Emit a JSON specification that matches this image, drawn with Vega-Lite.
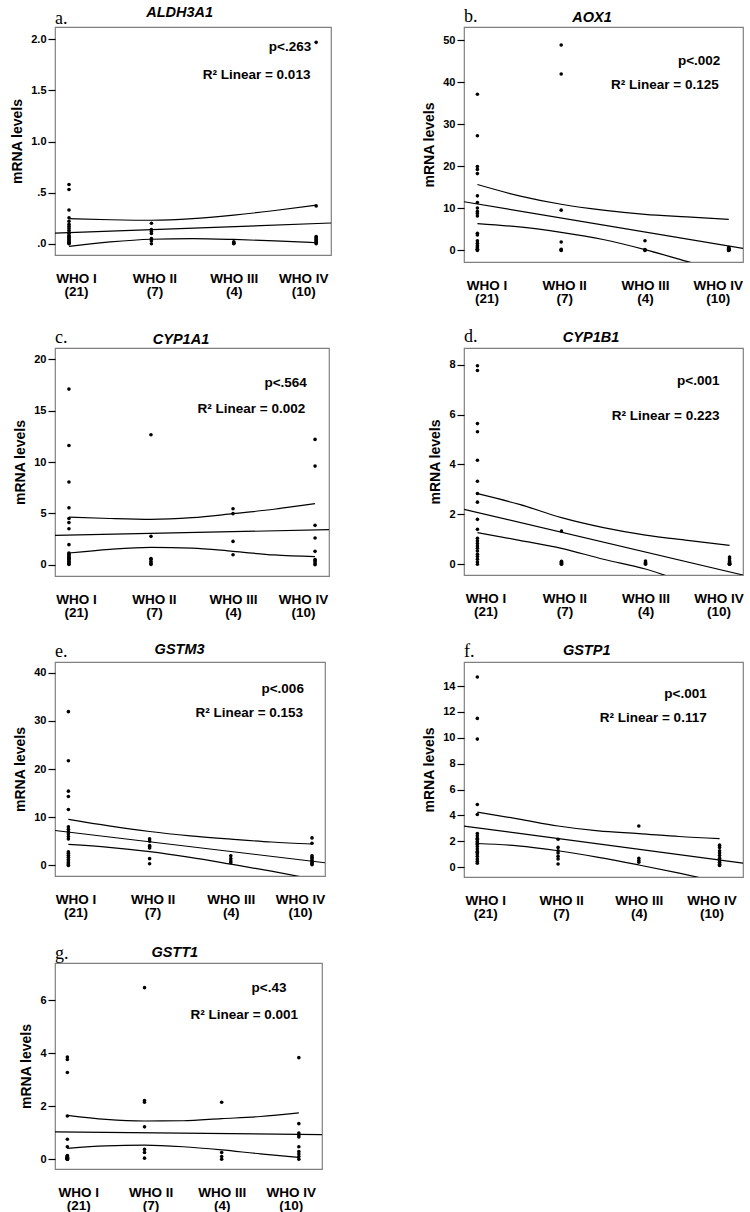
{
"$schema":"https://vega.github.io/schema/vega-lite/v6.json",
"padding":{"left":10,"top":4,"right":2,"bottom":1},
"background":"white",
"bounds":"flush",
"align":"each",
"columns":2,
"spacing":{"row":86,"column":133},
"datasets":{
"notes":[
{"panel":"a","letter":"a.","gene":"ALDH3A1","pval":"p<.263","r2":"R² Linear = 0.013"},
{"panel":"b","letter":"b.","gene":"AOX1","pval":"p<.002","r2":"R² Linear = 0.125"},
{"panel":"c","letter":"c.","gene":"CYP1A1","pval":"p<.564","r2":"R² Linear = 0.002"},
{"panel":"d","letter":"d.","gene":"CYP1B1","pval":"p<.001","r2":"R² Linear = 0.223"},
{"panel":"e","letter":"e.","gene":"GSTM3","pval":"p<.006","r2":"R² Linear = 0.153"},
{"panel":"f","letter":"f.","gene":"GSTP1","pval":"p<.001","r2":"R² Linear = 0.117"},
{"panel":"g","letter":"g.","gene":"GSTT1","pval":"p<.43","r2":"R² Linear = 0.001"}
],
"curves":[
{"panel":"a","band":"fit","grade":0.83,"value":0.103},{"panel":"a","band":"fit","grade":4.18,"value":0.203},
{"panel":"a","band":"upper","grade":1,"value":0.245},{"panel":"a","band":"upper","grade":1.5,"value":0.235},{"panel":"a","band":"upper","grade":2,"value":0.23},{"panel":"a","band":"upper","grade":2.5,"value":0.245},{"panel":"a","band":"upper","grade":3,"value":0.28},{"panel":"a","band":"upper","grade":3.5,"value":0.325},{"panel":"a","band":"upper","grade":4,"value":0.377},
{"panel":"a","band":"lower","grade":1,"value":-0.025},{"panel":"a","band":"lower","grade":1.5,"value":0.018},{"panel":"a","band":"lower","grade":2,"value":0.044},{"panel":"a","band":"lower","grade":2.5,"value":0.05},{"panel":"a","band":"lower","grade":3,"value":0.042},{"panel":"a","band":"lower","grade":3.5,"value":0.028},{"panel":"a","band":"lower","grade":4,"value":0.01},
{"panel":"b","band":"fit","grade":0.84,"value":11.6},{"panel":"b","band":"fit","grade":4.17,"value":0.5},
{"panel":"b","band":"upper","grade":1,"value":15.7},{"panel":"b","band":"upper","grade":1.5,"value":13.0},{"panel":"b","band":"upper","grade":2,"value":11.0},{"panel":"b","band":"upper","grade":2.5,"value":9.6},{"panel":"b","band":"upper","grade":3,"value":8.6},{"panel":"b","band":"upper","grade":3.5,"value":8.0},{"panel":"b","band":"upper","grade":4,"value":7.4},
{"panel":"b","band":"lower","grade":1,"value":6.4},{"panel":"b","band":"lower","grade":1.5,"value":5.6},{"panel":"b","band":"lower","grade":2,"value":4.3},{"panel":"b","band":"lower","grade":2.5,"value":2.6},{"panel":"b","band":"lower","grade":3,"value":0.2},{"panel":"b","band":"lower","grade":3.5,"value":-2.6},{"panel":"b","band":"lower","grade":4,"value":-5.3},
{"panel":"c","band":"fit","grade":0.83,"value":2.86},{"panel":"c","band":"fit","grade":4.17,"value":3.41},
{"panel":"c","band":"upper","grade":1,"value":4.64},{"panel":"c","band":"upper","grade":1.5,"value":4.5},{"panel":"c","band":"upper","grade":2,"value":4.42},{"panel":"c","band":"upper","grade":2.5,"value":4.58},{"panel":"c","band":"upper","grade":3,"value":4.97},{"panel":"c","band":"upper","grade":3.5,"value":5.4},{"panel":"c","band":"upper","grade":4,"value":5.94},
{"panel":"c","band":"lower","grade":1,"value":1.14},{"panel":"c","band":"lower","grade":1.5,"value":1.5},{"panel":"c","band":"lower","grade":2,"value":1.69},{"panel":"c","band":"lower","grade":2.5,"value":1.62},{"panel":"c","band":"lower","grade":3,"value":1.3},{"panel":"c","band":"lower","grade":3.5,"value":0.95},{"panel":"c","band":"lower","grade":4,"value":0.78},
{"panel":"d","band":"fit","grade":0.84,"value":2.2},{"panel":"d","band":"fit","grade":4.16,"value":-0.43},
{"panel":"d","band":"upper","grade":1,"value":2.83},{"panel":"d","band":"upper","grade":1.5,"value":2.4},{"panel":"d","band":"upper","grade":2,"value":1.87},{"panel":"d","band":"upper","grade":2.5,"value":1.47},{"panel":"d","band":"upper","grade":3,"value":1.17},{"panel":"d","band":"upper","grade":3.5,"value":0.96},{"panel":"d","band":"upper","grade":4,"value":0.76},
{"panel":"d","band":"lower","grade":1,"value":1.27},{"panel":"d","band":"lower","grade":1.5,"value":0.96},{"panel":"d","band":"lower","grade":2,"value":0.64},{"panel":"d","band":"lower","grade":2.5,"value":0.2},{"panel":"d","band":"lower","grade":3,"value":-0.19},{"panel":"d","band":"lower","grade":3.5,"value":-0.76},{"panel":"d","band":"lower","grade":4,"value":-1.36},
{"panel":"e","band":"fit","grade":0.835,"value":7.24},{"panel":"e","band":"fit","grade":4.16,"value":0.55},
{"panel":"e","band":"upper","grade":1,"value":9.56},{"panel":"e","band":"upper","grade":1.5,"value":8.2},{"panel":"e","band":"upper","grade":2,"value":7.03},{"panel":"e","band":"upper","grade":2.5,"value":6.14},{"panel":"e","band":"upper","grade":3,"value":5.46},{"panel":"e","band":"upper","grade":3.5,"value":4.85},{"panel":"e","band":"upper","grade":4,"value":4.44},
{"panel":"e","band":"lower","grade":1,"value":4.35},{"panel":"e","band":"lower","grade":1.5,"value":3.75},{"panel":"e","band":"lower","grade":2,"value":2.85},{"panel":"e","band":"lower","grade":2.5,"value":1.65},{"panel":"e","band":"lower","grade":3,"value":0.25},{"panel":"e","band":"lower","grade":3.5,"value":-1.2},{"panel":"e","band":"lower","grade":4,"value":-2.8},
{"panel":"f","band":"fit","grade":0.835,"value":3.18},{"panel":"f","band":"fit","grade":4.29,"value":0.31},
{"panel":"f","band":"upper","grade":1,"value":4.25},{"panel":"f","band":"upper","grade":1.5,"value":3.74},{"panel":"f","band":"upper","grade":2,"value":3.18},{"panel":"f","band":"upper","grade":2.5,"value":2.8},{"panel":"f","band":"upper","grade":3,"value":2.6},{"panel":"f","band":"upper","grade":3.5,"value":2.37},{"panel":"f","band":"upper","grade":4,"value":2.2},
{"panel":"f","band":"lower","grade":1,"value":1.83},{"panel":"f","band":"lower","grade":1.5,"value":1.65},{"panel":"f","band":"lower","grade":2,"value":1.27},{"panel":"f","band":"lower","grade":2.5,"value":0.76},{"panel":"f","band":"lower","grade":3,"value":0.17},{"panel":"f","band":"lower","grade":3.5,"value":-0.46},{"panel":"f","band":"lower","grade":4,"value":-1.15},
{"panel":"g","band":"fit","grade":0.84,"value":1.03},{"panel":"g","band":"fit","grade":4.3,"value":0.93},
{"panel":"g","band":"upper","grade":1,"value":1.65},{"panel":"g","band":"upper","grade":1.5,"value":1.5},{"panel":"g","band":"upper","grade":2,"value":1.44},{"panel":"g","band":"upper","grade":2.5,"value":1.45},{"panel":"g","band":"upper","grade":3,"value":1.53},{"panel":"g","band":"upper","grade":3.5,"value":1.61},{"panel":"g","band":"upper","grade":4,"value":1.75},
{"panel":"g","band":"lower","grade":1,"value":0.41},{"panel":"g","band":"lower","grade":1.5,"value":0.5},{"panel":"g","band":"lower","grade":2,"value":0.53},{"panel":"g","band":"lower","grade":2.5,"value":0.47},{"panel":"g","band":"lower","grade":3,"value":0.35},{"panel":"g","band":"lower","grade":3.5,"value":0.2},{"panel":"g","band":"lower","grade":4,"value":0.07}
],
"points":[
{"panel":"a","grade":1,"value":0.58},{"panel":"a","grade":1,"value":0.53},{"panel":"a","grade":1,"value":0.33},{"panel":"a","grade":1,"value":0.255},{"panel":"a","grade":1,"value":0.22},{"panel":"a","grade":1,"value":0.19},{"panel":"a","grade":1,"value":0.17},{"panel":"a","grade":1,"value":0.15},{"panel":"a","grade":1,"value":0.13},{"panel":"a","grade":1,"value":0.11},{"panel":"a","grade":1,"value":0.1},{"panel":"a","grade":1,"value":0.08},{"panel":"a","grade":1,"value":0.07},{"panel":"a","grade":1,"value":0.06},{"panel":"a","grade":1,"value":0.05},{"panel":"a","grade":1,"value":0.04},{"panel":"a","grade":1,"value":0.03},{"panel":"a","grade":1,"value":0.02},{"panel":"a","grade":1,"value":0.01},{"panel":"a","grade":1,"value":0.005},{"panel":"a","grade":1,"value":0.0},
{"panel":"a","grade":2,"value":0.2},{"panel":"a","grade":2,"value":0.14},{"panel":"a","grade":2,"value":0.12},{"panel":"a","grade":2,"value":0.1},{"panel":"a","grade":2,"value":0.05},{"panel":"a","grade":2,"value":0.03},{"panel":"a","grade":2,"value":0.0},
{"panel":"a","grade":3,"value":0.02},{"panel":"a","grade":3,"value":0.01},{"panel":"a","grade":3,"value":0.005},{"panel":"a","grade":3,"value":0.0},
{"panel":"a","grade":4,"value":1.97},{"panel":"a","grade":4,"value":0.37},{"panel":"a","grade":4,"value":0.07},{"panel":"a","grade":4,"value":0.06},{"panel":"a","grade":4,"value":0.05},{"panel":"a","grade":4,"value":0.04},{"panel":"a","grade":4,"value":0.03},{"panel":"a","grade":4,"value":0.02},{"panel":"a","grade":4,"value":0.01},{"panel":"a","grade":4,"value":0.0},
{"panel":"b","grade":1,"value":37.2},{"panel":"b","grade":1,"value":27.3},{"panel":"b","grade":1,"value":20.0},{"panel":"b","grade":1,"value":19.3},{"panel":"b","grade":1,"value":18.3},{"panel":"b","grade":1,"value":13.0},{"panel":"b","grade":1,"value":11.4},{"panel":"b","grade":1,"value":10.1},{"panel":"b","grade":1,"value":9.3},{"panel":"b","grade":1,"value":8.8},{"panel":"b","grade":1,"value":8.2},{"panel":"b","grade":1,"value":4.1},{"panel":"b","grade":1,"value":3.7},{"panel":"b","grade":1,"value":2.3},{"panel":"b","grade":1,"value":1.7},{"panel":"b","grade":1,"value":1.2},{"panel":"b","grade":1,"value":0.8},{"panel":"b","grade":1,"value":0.6},{"panel":"b","grade":1,"value":0.3},{"panel":"b","grade":1,"value":0.2},{"panel":"b","grade":1,"value":0.0},
{"panel":"b","grade":2,"value":48.9},{"panel":"b","grade":2,"value":42.0},{"panel":"b","grade":2,"value":9.6},{"panel":"b","grade":2,"value":2.0},{"panel":"b","grade":2,"value":0.3},{"panel":"b","grade":2,"value":0.1},{"panel":"b","grade":2,"value":0.0},
{"panel":"b","grade":3,"value":2.3},{"panel":"b","grade":3,"value":0.2},{"panel":"b","grade":3,"value":0.1},{"panel":"b","grade":3,"value":0.0},
{"panel":"b","grade":4,"value":0.7},{"panel":"b","grade":4,"value":0.5},{"panel":"b","grade":4,"value":0.4},{"panel":"b","grade":4,"value":0.3},{"panel":"b","grade":4,"value":0.25},{"panel":"b","grade":4,"value":0.2},{"panel":"b","grade":4,"value":0.15},{"panel":"b","grade":4,"value":0.1},{"panel":"b","grade":4,"value":0.05},{"panel":"b","grade":4,"value":0.0},
{"panel":"c","grade":1,"value":17.1},{"panel":"c","grade":1,"value":11.6},{"panel":"c","grade":1,"value":8.05},{"panel":"c","grade":1,"value":5.55},{"panel":"c","grade":1,"value":4.5},{"panel":"c","grade":1,"value":4.1},{"panel":"c","grade":1,"value":3.5},{"panel":"c","grade":1,"value":1.95},{"panel":"c","grade":1,"value":1.14},{"panel":"c","grade":1,"value":1.05},{"panel":"c","grade":1,"value":0.97},{"panel":"c","grade":1,"value":0.84},{"panel":"c","grade":1,"value":0.75},{"panel":"c","grade":1,"value":0.68},{"panel":"c","grade":1,"value":0.6},{"panel":"c","grade":1,"value":0.52},{"panel":"c","grade":1,"value":0.36},{"panel":"c","grade":1,"value":0.3},{"panel":"c","grade":1,"value":0.2},{"panel":"c","grade":1,"value":0.1},{"panel":"c","grade":1,"value":0.03},
{"panel":"c","grade":2,"value":12.66},{"panel":"c","grade":2,"value":2.76},{"panel":"c","grade":2,"value":0.6},{"panel":"c","grade":2,"value":0.52},{"panel":"c","grade":2,"value":0.32},{"panel":"c","grade":2,"value":0.15},{"panel":"c","grade":2,"value":0.03},
{"panel":"c","grade":3,"value":5.45},{"panel":"c","grade":3,"value":4.97},{"panel":"c","grade":3,"value":2.27},{"panel":"c","grade":3,"value":0.97},
{"panel":"c","grade":4,"value":12.2},{"panel":"c","grade":4,"value":9.6},{"panel":"c","grade":4,"value":3.83},{"panel":"c","grade":4,"value":2.6},{"panel":"c","grade":4,"value":1.3},{"panel":"c","grade":4,"value":0.5},{"panel":"c","grade":4,"value":0.4},{"panel":"c","grade":4,"value":0.26},{"panel":"c","grade":4,"value":0.1},{"panel":"c","grade":4,"value":0.0},
{"panel":"d","grade":1,"value":7.96},{"panel":"d","grade":1,"value":7.77},{"panel":"d","grade":1,"value":5.64},{"panel":"d","grade":1,"value":5.31},{"panel":"d","grade":1,"value":4.17},{"panel":"d","grade":1,"value":3.33},{"panel":"d","grade":1,"value":2.84},{"panel":"d","grade":1,"value":2.49},{"panel":"d","grade":1,"value":1.8},{"panel":"d","grade":1,"value":1.4},{"panel":"d","grade":1,"value":1.04},{"panel":"d","grade":1,"value":0.93},{"panel":"d","grade":1,"value":0.83},{"panel":"d","grade":1,"value":0.73},{"panel":"d","grade":1,"value":0.64},{"panel":"d","grade":1,"value":0.53},{"panel":"d","grade":1,"value":0.4},{"panel":"d","grade":1,"value":0.31},{"panel":"d","grade":1,"value":0.2},{"panel":"d","grade":1,"value":0.09},{"panel":"d","grade":1,"value":0.0},
{"panel":"d","grade":2,"value":1.33},{"panel":"d","grade":2,"value":0.12},{"panel":"d","grade":2,"value":0.08},{"panel":"d","grade":2,"value":0.05},{"panel":"d","grade":2,"value":0.03},{"panel":"d","grade":2,"value":0.01},{"panel":"d","grade":2,"value":0.0},
{"panel":"d","grade":3,"value":0.13},{"panel":"d","grade":3,"value":0.07},{"panel":"d","grade":3,"value":0.03},{"panel":"d","grade":3,"value":0.0},
{"panel":"d","grade":4,"value":0.29},{"panel":"d","grade":4,"value":0.22},{"panel":"d","grade":4,"value":0.13},{"panel":"d","grade":4,"value":0.1},{"panel":"d","grade":4,"value":0.06},{"panel":"d","grade":4,"value":0.04},{"panel":"d","grade":4,"value":0.02},{"panel":"d","grade":4,"value":0.01},{"panel":"d","grade":4,"value":0.005},{"panel":"d","grade":4,"value":0.0},
{"panel":"e","grade":1,"value":31.9},{"panel":"e","grade":1,"value":21.7},{"panel":"e","grade":1,"value":15.4},{"panel":"e","grade":1,"value":14.3},{"panel":"e","grade":1,"value":11.6},{"panel":"e","grade":1,"value":8.0},{"panel":"e","grade":1,"value":7.5},{"panel":"e","grade":1,"value":7.0},{"panel":"e","grade":1,"value":6.5},{"panel":"e","grade":1,"value":6.0},{"panel":"e","grade":1,"value":5.5},{"panel":"e","grade":1,"value":2.8},{"panel":"e","grade":1,"value":2.5},{"panel":"e","grade":1,"value":2.1},{"panel":"e","grade":1,"value":1.7},{"panel":"e","grade":1,"value":1.2},{"panel":"e","grade":1,"value":0.9},{"panel":"e","grade":1,"value":0.6},{"panel":"e","grade":1,"value":0.35},{"panel":"e","grade":1,"value":0.1},{"panel":"e","grade":1,"value":0.0},
{"panel":"e","grade":2,"value":5.5},{"panel":"e","grade":2,"value":5.0},{"panel":"e","grade":2,"value":4.1},{"panel":"e","grade":2,"value":3.9},{"panel":"e","grade":2,"value":3.6},{"panel":"e","grade":2,"value":1.4},{"panel":"e","grade":2,"value":0.34},
{"panel":"e","grade":3,"value":2.0},{"panel":"e","grade":3,"value":1.4},{"panel":"e","grade":3,"value":0.9},{"panel":"e","grade":3,"value":0.55},
{"panel":"e","grade":4,"value":5.7},{"panel":"e","grade":4,"value":4.6},{"panel":"e","grade":4,"value":2.0},{"panel":"e","grade":4,"value":1.7},{"panel":"e","grade":4,"value":1.4},{"panel":"e","grade":4,"value":1.0},{"panel":"e","grade":4,"value":0.75},{"panel":"e","grade":4,"value":0.55},{"panel":"e","grade":4,"value":0.34},{"panel":"e","grade":4,"value":0.14},
{"panel":"f","grade":1,"value":14.7},{"panel":"f","grade":1,"value":11.5},{"panel":"f","grade":1,"value":9.9},{"panel":"f","grade":1,"value":4.84},{"panel":"f","grade":1,"value":4.07},{"panel":"f","grade":1,"value":2.6},{"panel":"f","grade":1,"value":2.42},{"panel":"f","grade":1,"value":2.24},{"panel":"f","grade":1,"value":2.16},{"panel":"f","grade":1,"value":1.99},{"panel":"f","grade":1,"value":1.86},{"panel":"f","grade":1,"value":1.78},{"panel":"f","grade":1,"value":1.6},{"panel":"f","grade":1,"value":1.4},{"panel":"f","grade":1,"value":1.22},{"panel":"f","grade":1,"value":1.15},{"panel":"f","grade":1,"value":1.02},{"panel":"f","grade":1,"value":0.84},{"panel":"f","grade":1,"value":0.64},{"panel":"f","grade":1,"value":0.46},{"panel":"f","grade":1,"value":0.31},
{"panel":"f","grade":2,"value":2.16},{"panel":"f","grade":2,"value":1.53},{"panel":"f","grade":2,"value":1.27},{"panel":"f","grade":2,"value":1.1},{"panel":"f","grade":2,"value":0.84},{"panel":"f","grade":2,"value":0.64},{"panel":"f","grade":2,"value":0.25},
{"panel":"f","grade":3,"value":3.18},{"panel":"f","grade":3,"value":0.69},{"panel":"f","grade":3,"value":0.51},{"panel":"f","grade":3,"value":0.38},
{"panel":"f","grade":4,"value":1.7},{"panel":"f","grade":4,"value":1.53},{"panel":"f","grade":4,"value":1.27},{"panel":"f","grade":4,"value":1.1},{"panel":"f","grade":4,"value":0.9},{"panel":"f","grade":4,"value":0.69},{"panel":"f","grade":4,"value":0.51},{"panel":"f","grade":4,"value":0.38},{"panel":"f","grade":4,"value":0.23},{"panel":"f","grade":4,"value":0.13},
{"panel":"g","grade":1,"value":3.85},{"panel":"g","grade":1,"value":3.76},{"panel":"g","grade":1,"value":3.27},{"panel":"g","grade":1,"value":1.63},{"panel":"g","grade":1,"value":0.75},{"panel":"g","grade":1,"value":0.47},{"panel":"g","grade":1,"value":0.14},{"panel":"g","grade":1,"value":0.12},{"panel":"g","grade":1,"value":0.1},{"panel":"g","grade":1,"value":0.08},{"panel":"g","grade":1,"value":0.07},{"panel":"g","grade":1,"value":0.06},{"panel":"g","grade":1,"value":0.05},{"panel":"g","grade":1,"value":0.04},{"panel":"g","grade":1,"value":0.03},{"panel":"g","grade":1,"value":0.02},{"panel":"g","grade":1,"value":0.02},{"panel":"g","grade":1,"value":0.01},{"panel":"g","grade":1,"value":0.01},{"panel":"g","grade":1,"value":0.0},{"panel":"g","grade":1,"value":0.0},
{"panel":"g","grade":2,"value":6.47},{"panel":"g","grade":2,"value":2.21},{"panel":"g","grade":2,"value":2.15},{"panel":"g","grade":2,"value":1.22},{"panel":"g","grade":2,"value":0.37},{"panel":"g","grade":2,"value":0.25},{"panel":"g","grade":2,"value":0.04},
{"panel":"g","grade":3,"value":2.15},{"panel":"g","grade":3,"value":0.25},{"panel":"g","grade":3,"value":0.1},{"panel":"g","grade":3,"value":0.0},
{"panel":"g","grade":4,"value":3.83},{"panel":"g","grade":4,"value":1.34},{"panel":"g","grade":4,"value":0.99},{"panel":"g","grade":4,"value":0.91},{"panel":"g","grade":4,"value":0.84},{"panel":"g","grade":4,"value":0.47},{"panel":"g","grade":4,"value":0.29},{"panel":"g","grade":4,"value":0.2},{"panel":"g","grade":4,"value":0.1},{"panel":"g","grade":4,"value":0.0}
]
},
"concat":[
{"width":276,"height":228,
"layer":[
{"data":{"name":"points"},"transform":[{"filter":"datum.panel == 'a'"}],"mark":{"type":"circle"},
"encoding":{"x":{"field":"grade","type":"quantitative","title":null,"scale":{"domain":[0.83,4.18],"nice":false,"zero":false},"axis":{"values":[1,2,3,4],"labelOffset":{"condition":[{"test":"datum.value == 1","value":7},{"test":"datum.value == 2","value":3},{"test":"datum.value == 4","value":-13}],"value":0},"labelExpr":"datum.value == 1 ? ['WHO I','(21)'] : datum.value == 2 ? ['WHO II','(7)'] : datum.value == 3 ? ['WHO III','(4)'] : ['WHO IV','(10)']"}},
"y":{"field":"value","type":"quantitative","title":"mRNA levels","scale":{"domain":[-0.11,2.12],"nice":false,"zero":false},"axis":{"values":[0,0.5,1,1.5,2],"tickCount":20,"labelOverlap":false,"labelExpr":"datum.value == 0 ? '.0' : datum.value == 0.5 ? '.5' : format(datum.value, '.1f')"}}}},
{"data":{"name":"curves"},"transform":[{"filter":"datum.panel == 'a'"}],"mark":{"type":"line","clip":true,"interpolate":"monotone"},
"encoding":{"x":{"field":"grade","type":"quantitative"},"y":{"field":"value","type":"quantitative"},"detail":{"field":"band"}}},
{"data":{"name":"notes"},"transform":[{"filter":"datum.panel == 'a'"}],"mark":{"type":"text","align":"left","baseline":"alphabetic","dy":-3,"font":"Liberation Serif","fontSize":18,"fontWeight":"normal"},
"encoding":{"x":{"datum":0.83},"y":{"datum":2.12},"text":{"field":"letter"}}},
{"data":{"name":"notes"},"transform":[{"filter":"datum.panel == 'a'"}],"mark":{"type":"text","align":"center","baseline":"alphabetic","dy":-10,"fontStyle":"italic","fontSize":14.5},
"encoding":{"x":{"datum":2.343},"y":{"datum":2.12},"text":{"field":"gene"}}},
{"data":{"name":"notes"},"transform":[{"filter":"datum.panel == 'a'"}],"mark":{"type":"text","align":"right"},
"encoding":{"x":{"datum":3.94},"y":{"datum":1.92},"text":{"field":"pval"}}},
{"data":{"name":"notes"},"transform":[{"filter":"datum.panel == 'a'"}],"mark":{"type":"text","align":"right"},
"encoding":{"x":{"datum":3.93},"y":{"datum":1.653},"text":{"field":"r2"}}}
]},
{"width":279,"height":235,
"layer":[
{"data":{"name":"points"},"transform":[{"filter":"datum.panel == 'b'"}],"mark":{"type":"circle"},
"encoding":{"x":{"field":"grade","type":"quantitative","title":null,"scale":{"domain":[0.84,4.17],"nice":false,"zero":false},"axis":{"values":[1,2,3,4],"labelOffset":{"condition":[{"test":"datum.value == 1","value":9},{"test":"datum.value == 2","value":3},{"test":"datum.value == 4","value":-11}],"value":0},"labelExpr":"datum.value == 1 ? ['WHO I','(21)'] : datum.value == 2 ? ['WHO II','(7)'] : datum.value == 3 ? ['WHO III','(4)'] : ['WHO IV','(10)']"}},
"y":{"field":"value","type":"quantitative","title":"mRNA levels","scale":{"domain":[-2.75,53.2],"nice":false,"zero":false},"axis":{"values":[0,10,20,30,40,50],"format":"d","tickCount":20,"labelOverlap":false}}}},
{"data":{"name":"curves"},"transform":[{"filter":"datum.panel == 'b'"}],"mark":{"type":"line","clip":true,"interpolate":"monotone"},
"encoding":{"x":{"field":"grade","type":"quantitative"},"y":{"field":"value","type":"quantitative"},"detail":{"field":"band"}}},
{"data":{"name":"notes"},"transform":[{"filter":"datum.panel == 'b'"}],"mark":{"type":"text","align":"left","baseline":"alphabetic","dy":-5,"font":"Liberation Serif","fontSize":18,"fontWeight":"normal"},
"encoding":{"x":{"datum":0.84},"y":{"datum":53.2},"text":{"field":"letter"}}},
{"data":{"name":"notes"},"transform":[{"filter":"datum.panel == 'b'"}],"mark":{"type":"text","align":"center","baseline":"alphabetic","dy":-5,"fontStyle":"italic","fontSize":14.5},
"encoding":{"x":{"datum":2.369},"y":{"datum":53.2},"text":{"field":"gene"}}},
{"data":{"name":"notes"},"transform":[{"filter":"datum.panel == 'b'"}],"mark":{"type":"text","align":"right"},
"encoding":{"x":{"datum":3.9},"y":{"datum":45.1},"text":{"field":"pval"}}},
{"data":{"name":"notes"},"transform":[{"filter":"datum.panel == 'b'"}],"mark":{"type":"text","align":"right"},
"encoding":{"x":{"datum":3.88},"y":{"datum":39.4},"text":{"field":"r2"}}}
]},
{"width":274,"height":228,
"layer":[
{"data":{"name":"points"},"transform":[{"filter":"datum.panel == 'c'"}],"mark":{"type":"circle"},
"encoding":{"x":{"field":"grade","type":"quantitative","title":null,"scale":{"domain":[0.83,4.17],"nice":false,"zero":false},"axis":{"values":[1,2,3,4],"labelOffset":{"condition":[{"test":"datum.value == 1","value":7},{"test":"datum.value == 2","value":3},{"test":"datum.value == 4","value":-12}],"value":0},"labelExpr":"datum.value == 1 ? ['WHO I','(21)'] : datum.value == 2 ? ['WHO II','(7)'] : datum.value == 3 ? ['WHO III','(4)'] : ['WHO IV','(10)']"}},
"y":{"field":"value","type":"quantitative","title":"mRNA levels","scale":{"domain":[-1.1,21.1],"nice":false,"zero":false},"axis":{"values":[0,5,10,15,20],"format":"d","tickCount":20,"labelOverlap":false}}}},
{"data":{"name":"curves"},"transform":[{"filter":"datum.panel == 'c'"}],"mark":{"type":"line","clip":true,"interpolate":"monotone"},
"encoding":{"x":{"field":"grade","type":"quantitative"},"y":{"field":"value","type":"quantitative"},"detail":{"field":"band"}}},
{"data":{"name":"notes"},"transform":[{"filter":"datum.panel == 'c'"}],"mark":{"type":"text","align":"left","baseline":"alphabetic","dy":-5,"font":"Liberation Serif","fontSize":18,"fontWeight":"normal"},
"encoding":{"x":{"datum":0.83},"y":{"datum":21.1},"text":{"field":"letter"}}},
{"data":{"name":"notes"},"transform":[{"filter":"datum.panel == 'c'"}],"mark":{"type":"text","align":"center","baseline":"alphabetic","dy":-4,"fontStyle":"italic","fontSize":14.5},
"encoding":{"x":{"datum":2.366},"y":{"datum":21.1},"text":{"field":"gene"}}},
{"data":{"name":"notes"},"transform":[{"filter":"datum.panel == 'c'"}],"mark":{"type":"text","align":"right"},
"encoding":{"x":{"datum":3.9},"y":{"datum":17.7},"text":{"field":"pval"}}},
{"data":{"name":"notes"},"transform":[{"filter":"datum.panel == 'c'"}],"mark":{"type":"text","align":"right"},
"encoding":{"x":{"datum":3.88},"y":{"datum":15.2},"text":{"field":"r2"}}}
]},
{"width":279,"height":227,
"layer":[
{"data":{"name":"points"},"transform":[{"filter":"datum.panel == 'd'"}],"mark":{"type":"circle"},
"encoding":{"x":{"field":"grade","type":"quantitative","title":null,"scale":{"domain":[0.84,4.16],"nice":false,"zero":false},"axis":{"values":[1,2,3,4],"labelOffset":{"condition":[{"test":"datum.value == 1","value":8},{"test":"datum.value == 2","value":3},{"test":"datum.value == 4","value":-11}],"value":0},"labelExpr":"datum.value == 1 ? ['WHO I','(21)'] : datum.value == 2 ? ['WHO II','(7)'] : datum.value == 3 ? ['WHO III','(4)'] : ['WHO IV','(10)']"}},
"y":{"field":"value","type":"quantitative","title":"mRNA levels","scale":{"domain":[-0.43,8.67],"nice":false,"zero":false},"axis":{"values":[0,2,4,6,8],"format":"d","tickCount":20,"labelOverlap":false}}}},
{"data":{"name":"curves"},"transform":[{"filter":"datum.panel == 'd'"}],"mark":{"type":"line","clip":true,"interpolate":"monotone"},
"encoding":{"x":{"field":"grade","type":"quantitative"},"y":{"field":"value","type":"quantitative"},"detail":{"field":"band"}}},
{"data":{"name":"notes"},"transform":[{"filter":"datum.panel == 'd'"}],"mark":{"type":"text","align":"left","baseline":"alphabetic","dy":-6,"font":"Liberation Serif","fontSize":18,"fontWeight":"normal"},
"encoding":{"x":{"datum":0.84},"y":{"datum":8.67},"text":{"field":"letter"}}},
{"data":{"name":"notes"},"transform":[{"filter":"datum.panel == 'd'"}],"mark":{"type":"text","align":"center","baseline":"alphabetic","dy":-6,"fontStyle":"italic","fontSize":14.5},
"encoding":{"x":{"datum":2.352},"y":{"datum":8.67},"text":{"field":"gene"}}},
{"data":{"name":"notes"},"transform":[{"filter":"datum.panel == 'd'"}],"mark":{"type":"text","align":"right"},
"encoding":{"x":{"datum":3.88},"y":{"datum":7.34},"text":{"field":"pval"}}},
{"data":{"name":"notes"},"transform":[{"filter":"datum.panel == 'd'"}],"mark":{"type":"text","align":"right"},
"encoding":{"x":{"datum":3.88},"y":{"datum":5.94},"text":{"field":"r2"}}}
]},
{"width":270,"height":214,
"layer":[
{"data":{"name":"points"},"transform":[{"filter":"datum.panel == 'e'"}],"mark":{"type":"circle"},
"encoding":{"x":{"field":"grade","type":"quantitative","title":null,"scale":{"domain":[0.835,4.16],"nice":false,"zero":false},"axis":{"values":[1,2,3,4],"labelOffset":{"condition":[{"test":"datum.value == 1","value":7},{"test":"datum.value == 2","value":3},{"test":"datum.value == 4","value":-12}],"value":0},"labelExpr":"datum.value == 1 ? ['WHO I','(21)'] : datum.value == 2 ? ['WHO II','(7)'] : datum.value == 3 ? ['WHO III','(4)'] : ['WHO IV','(10)']"}},
"y":{"field":"value","type":"quantitative","title":"mRNA levels","scale":{"domain":[-2.2,42.2],"nice":false,"zero":false},"axis":{"values":[0,10,20,30,40],"format":"d","tickCount":20,"labelOverlap":false}}}},
{"data":{"name":"curves"},"transform":[{"filter":"datum.panel == 'e'"}],"mark":{"type":"line","clip":true,"interpolate":"monotone"},
"encoding":{"x":{"field":"grade","type":"quantitative"},"y":{"field":"value","type":"quantitative"},"detail":{"field":"band"}}},
{"data":{"name":"notes"},"transform":[{"filter":"datum.panel == 'e'"}],"mark":{"type":"text","align":"left","baseline":"alphabetic","dy":-5,"font":"Liberation Serif","fontSize":18,"fontWeight":"normal"},
"encoding":{"x":{"datum":0.835},"y":{"datum":42.2},"text":{"field":"letter"}}},
{"data":{"name":"notes"},"transform":[{"filter":"datum.panel == 'e'"}],"mark":{"type":"text","align":"center","baseline":"alphabetic","dy":-8,"fontStyle":"italic","fontSize":14.5},
"encoding":{"x":{"datum":2.369},"y":{"datum":42.2},"text":{"field":"gene"}}},
{"data":{"name":"notes"},"transform":[{"filter":"datum.panel == 'e'"}],"mark":{"type":"text","align":"right"},
"encoding":{"x":{"datum":3.9},"y":{"datum":36.7},"text":{"field":"pval"}}},
{"data":{"name":"notes"},"transform":[{"filter":"datum.panel == 'e'"}],"mark":{"type":"text","align":"right"},
"encoding":{"x":{"datum":3.89},"y":{"datum":31.6},"text":{"field":"r2"}}}
]},
{"width":279,"height":215,
"layer":[
{"data":{"name":"points"},"transform":[{"filter":"datum.panel == 'f'"}],"mark":{"type":"circle"},
"encoding":{"x":{"field":"grade","type":"quantitative","title":null,"scale":{"domain":[0.835,4.29],"nice":false,"zero":false},"axis":{"values":[1,2,3,4],"labelOffset":{"condition":[{"test":"datum.value == 1","value":8},{"test":"datum.value == 2","value":3},{"test":"datum.value == 4","value":-8}],"value":0},"labelExpr":"datum.value == 1 ? ['WHO I','(21)'] : datum.value == 2 ? ['WHO II','(7)'] : datum.value == 3 ? ['WHO III','(4)'] : ['WHO IV','(10)']"}},
"y":{"field":"value","type":"quantitative","title":"mRNA levels","scale":{"domain":[-0.76,15.86],"nice":false,"zero":false},"axis":{"values":[0,2,4,6,8,10,12,14],"format":"d","tickCount":20,"labelOverlap":false}}}},
{"data":{"name":"curves"},"transform":[{"filter":"datum.panel == 'f'"}],"mark":{"type":"line","clip":true,"interpolate":"monotone"},
"encoding":{"x":{"field":"grade","type":"quantitative"},"y":{"field":"value","type":"quantitative"},"detail":{"field":"band"}}},
{"data":{"name":"notes"},"transform":[{"filter":"datum.panel == 'f'"}],"mark":{"type":"text","align":"left","baseline":"alphabetic","dy":-5,"font":"Liberation Serif","fontSize":18,"fontWeight":"normal"},
"encoding":{"x":{"datum":0.835},"y":{"datum":15.86},"text":{"field":"letter"}}},
{"data":{"name":"notes"},"transform":[{"filter":"datum.panel == 'f'"}],"mark":{"type":"text","align":"center","baseline":"alphabetic","dy":-7,"fontStyle":"italic","fontSize":14.5},
"encoding":{"x":{"datum":2.354},"y":{"datum":15.86},"text":{"field":"gene"}}},
{"data":{"name":"notes"},"transform":[{"filter":"datum.panel == 'f'"}],"mark":{"type":"text","align":"right"},
"encoding":{"x":{"datum":3.84},"y":{"datum":13.4},"text":{"field":"pval"}}},
{"data":{"name":"notes"},"transform":[{"filter":"datum.panel == 'f'"}],"mark":{"type":"text","align":"right"},
"encoding":{"x":{"datum":3.84},"y":{"datum":11.5},"text":{"field":"r2"}}}
]},
{"width":267,"height":206,
"layer":[
{"data":{"name":"points"},"transform":[{"filter":"datum.panel == 'g'"}],"mark":{"type":"circle"},
"encoding":{"x":{"field":"grade","type":"quantitative","title":null,"scale":{"domain":[0.84,4.3],"nice":false,"zero":false},"axis":{"values":[1,2,3,4],"labelOffset":{"condition":[{"test":"datum.value == 1","value":11},{"test":"datum.value == 2","value":6},{"test":"datum.value == 4","value":-8}],"value":0},"labelExpr":"datum.value == 1 ? ['WHO I','(21)'] : datum.value == 2 ? ['WHO II','(7)'] : datum.value == 3 ? ['WHO III','(4)'] : ['WHO IV','(10)']"}},
"y":{"field":"value","type":"quantitative","title":"mRNA levels","scale":{"domain":[-0.37,7.4],"nice":false,"zero":false},"axis":{"values":[0,2,4,6],"format":"d","tickCount":20,"labelOverlap":false}}}},
{"data":{"name":"curves"},"transform":[{"filter":"datum.panel == 'g'"}],"mark":{"type":"line","clip":true,"interpolate":"monotone"},
"encoding":{"x":{"field":"grade","type":"quantitative"},"y":{"field":"value","type":"quantitative"},"detail":{"field":"band"}}},
{"data":{"name":"notes"},"transform":[{"filter":"datum.panel == 'g'"}],"mark":{"type":"text","align":"left","baseline":"alphabetic","dy":-4,"font":"Liberation Serif","fontSize":18,"fontWeight":"normal"},
"encoding":{"x":{"datum":0.84},"y":{"datum":7.4},"text":{"field":"letter"}}},
{"data":{"name":"notes"},"transform":[{"filter":"datum.panel == 'g'"}],"mark":{"type":"text","align":"center","baseline":"alphabetic","dy":-6,"fontStyle":"italic","fontSize":14.5},
"encoding":{"x":{"datum":2.392},"y":{"datum":7.4},"text":{"field":"gene"}}},
{"data":{"name":"notes"},"transform":[{"filter":"datum.panel == 'g'"}],"mark":{"type":"text","align":"right"},
"encoding":{"x":{"datum":3.84},"y":{"datum":6.47},"text":{"field":"pval"}}},
{"data":{"name":"notes"},"transform":[{"filter":"datum.panel == 'g'"}],"mark":{"type":"text","align":"right"},
"encoding":{"x":{"datum":3.99},"y":{"datum":5.44},"text":{"field":"r2"}}}
]}
],
"config":{
"view":{"stroke":"#808080","strokeWidth":1.2},
"axis":{"grid":false,"domain":false,"labelColor":"black","titleColor":"black","labelFont":"Liberation Sans","titleFont":"Liberation Sans","labelFontWeight":"bold","titleFontWeight":"bold","tickColor":"black","labelOverlap":false},
"axisX":{"ticks":false,"labelFontSize":13.5,"labelPadding":16,"labelLineHeight":13},
"axisY":{"tickSize":7,"tickWidth":1.2,"labelFontSize":11,"labelPadding":2,"titleFontSize":14,"titlePadding":6},
"circle":{"size":13,"opacity":1,"color":"black"},
"line":{"color":"black","strokeWidth":1.2},
"text":{"font":"Liberation Sans","fontSize":13.5,"fontWeight":"bold","color":"black","baseline":"middle"}
}
}
